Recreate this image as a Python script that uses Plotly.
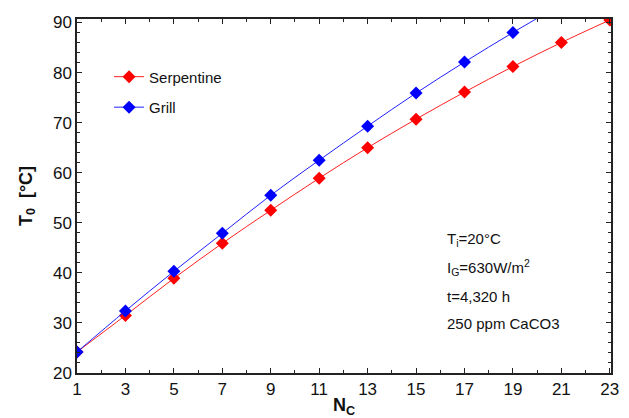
import plotly.graph_objects as go

# Data
NC_SERP = [1, 3, 5, 7, 9, 11, 13, 15, 17, 19, 21, 23]
T0_SERP = [24.2, 31.5, 38.9, 45.9, 52.5, 58.9, 65.0, 70.7, 76.1, 81.2, 86.0, 90.5]

NC_GRILL = [1, 3, 5, 7, 9, 11, 13, 15, 17, 19, 21]
T0_GRILL = [24.2, 32.4, 40.3, 47.9, 55.5, 62.5, 69.3, 75.9, 82.1, 88.0, 93.6]

CONDITIONS = ["T<sub>i</sub>=20°C", "I<sub>G</sub>=630W/m<sup>2</sup>", "t=4,320 h", "250 ppm CaCO3"]

FONT = "Liberation Sans, Arial, sans-serif"

fig = go.Figure()

fig.add_trace(go.Scatter(
    x=NC_SERP, y=T0_SERP,
    mode="lines+markers",
    name="Serpentine",
    legendgroup="a",
    line=dict(color="#ff2020", width=1, shape="spline"),
    marker=dict(symbol="diamond", size=10, color="#ff0000"),
))

fig.add_trace(go.Scatter(
    x=NC_GRILL, y=T0_GRILL,
    mode="lines+markers",
    name="Grill",
    legendgroup="b",
    line=dict(color="#2020ff", width=1, shape="spline"),
    marker=dict(symbol="diamond", size=10, color="#0000ff"),
))

# Operating conditions text block
ys = [0.376, 0.297, 0.2175, 0.141]
for txt, yy in zip(CONDITIONS, ys):
    fig.add_annotation(
        text=txt, xref="paper", yref="paper", x=0.689, y=yy,
        xanchor="left", yanchor="middle", showarrow=False,
        font=dict(family=FONT, size=15, color="#111"),
    )

axis_common = dict(
    showline=True, linecolor="#222", linewidth=1.5, mirror="ticks",
    ticks="inside", ticklen=5, tickwidth=1, tickcolor="#222",
    showgrid=False, zeroline=False, automargin=False,
    tickfont=dict(family=FONT, size=17, color="#111"),
)

# page body adds an 8px margin, so the figure is sized to fit the 629x418 window
fig.update_layout(
    width=621, height=410,
    margin=dict(l=69, r=18, t=11, b=45),
    plot_bgcolor="white", paper_bgcolor="white",
    font=dict(family=FONT, color="#111"),
    xaxis=dict(
        range=[1, 23.05], tick0=1, dtick=2,
        minor=dict(ticks="inside", dtick=1, tick0=1, ticklen=3, tickcolor="#222"),
        title=dict(text="<b>N<sub>C</sub></b>", font=dict(family=FONT, size=18), standoff=2),
        **axis_common,
    ),
    yaxis=dict(
        range=[20, 90.7], tick0=20, dtick=10,
        minor=dict(ticks="inside", dtick=2, tick0=20, ticklen=3, tickcolor="#222"),
        title=dict(text="<b>T<sub>0</sub>  [°C]</b>", font=dict(family=FONT, size=18), standoff=16),
        **axis_common,
    ),
    legend=dict(
        x=0.06, y=0.883, xanchor="left", yanchor="top",
        bgcolor="rgba(0,0,0,0)",
        font=dict(family=FONT, size=15, color="#111"),
        traceorder="grouped", tracegroupgap=8,
    ),
)

fig.write_html("out.html")
